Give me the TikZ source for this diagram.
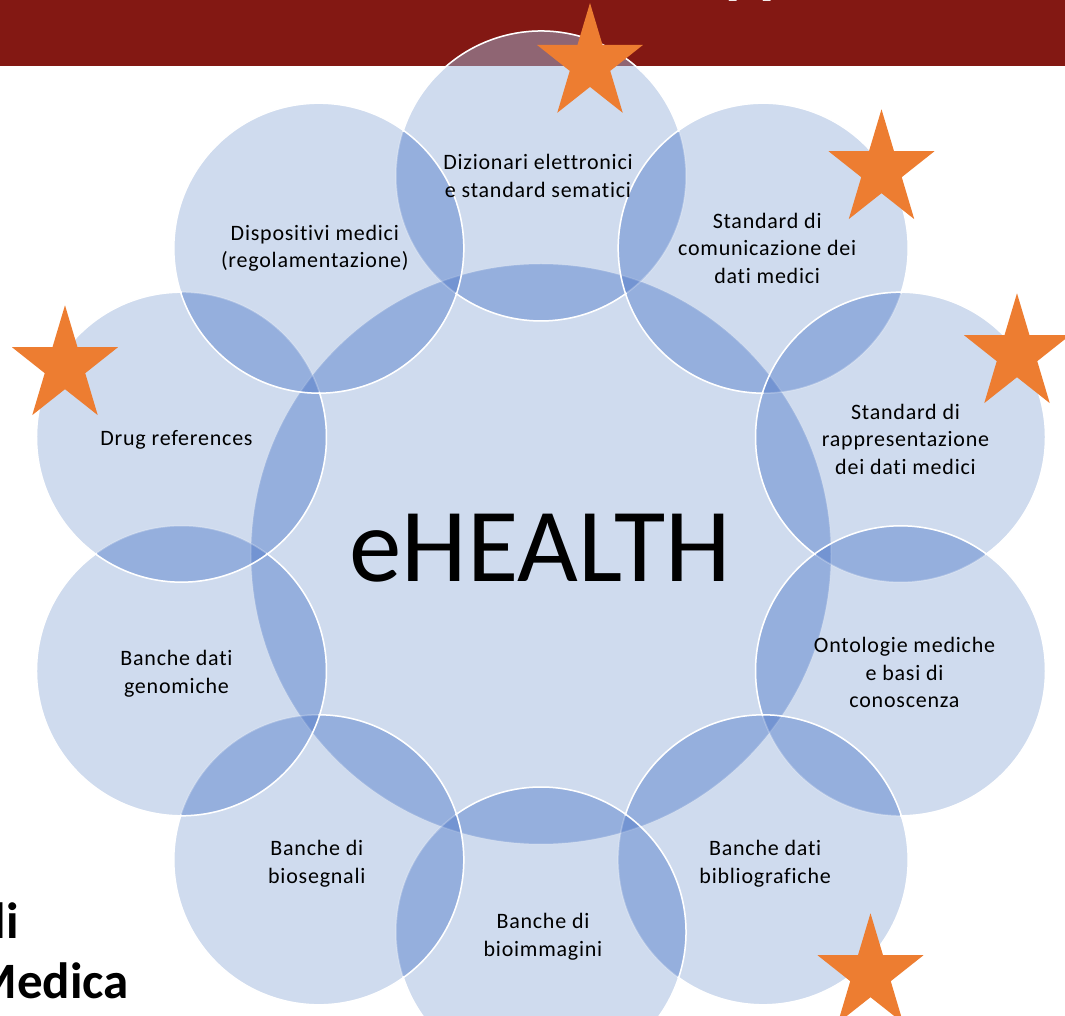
\documentclass[tikz,border=0pt]{standalone}
\usepackage{fontspec}
\setmainfont{Carlito}[Ligatures=NoCommon]
\usetikzlibrary{positioning,calc}

\definecolor{bannerred}{RGB}{131,24,19}
\definecolor{circlefill}{RGB}{207,219,238}
\definecolor{lensfill}{RGB}{149,175,221}
\definecolor{tripfill}{RGB}{115,148,210}
\definecolor{bannermauve}{RGB}{143,101,115}
\definecolor{starorange}{RGB}{237,125,49}

\tikzset{
  bubbletext/.style={align=center, inner sep=0pt, text=black,
    font=\fontsize{22}{27.5}\selectfont\addfontfeature{LetterSpace=3.5}},
  rim/.style={white, line width=1.5pt},
  fadedrim/.style={white, line width=1.5pt, opacity=.25}
}

\begin{document}
\begin{tikzpicture}[x=1pt,y=1pt]
    \useasboundingbox (-541,-462) rectangle (524,554);
    \fill[white] (-541,-462) rectangle (524,554);

    % Title bar
    \fill[bannerred] (-541,488) rectangle (524,554);
    \node[anchor=base west, inner sep=0pt, text=white, font=\bfseries\fontsize{63}{70}\selectfont] (titlebit) at (184.5,562) {pp};

    % Ring of circles
    \coordinate (O) at (0,0);
    \foreach \k in {1,...,10}
        \coordinate (c\k) at ({126-36*\k}:378);

    \fill[circlefill] (O) circle (290);
    \foreach \k in {1,...,10}
        \fill[circlefill] (c\k) circle (145);

    % Overlaps with the centre
    \foreach \k in {1,...,10} {
        \begin{scope}
            \clip (O) circle (290);
            \fill[lensfill] (c\k) circle (145);
        \end{scope}
    }

    % Overlaps between neighbours
    \foreach \k in {1,...,10} {
        \pgfmathtruncatemacro{\nxt}{mod(\k,10)+1}
        \begin{scope}
            \clip (c\k) circle (145);
            \fill[lensfill] (c\nxt) circle (145);
            \clip (O) circle (290);
            \fill[tripfill] (c\nxt) circle (145);
        \end{scope}
    }

    % Top circle over the title bar
    \begin{scope}
        \clip (-541,488) rectangle (524,554);
        \fill[bannermauve] (c1) circle (145);
    \end{scope}

    % Rims
    \draw[fadedrim, opacity=.12] (O) circle (290);
    \foreach \k in {1,...,10}
        \draw[fadedrim] (c\k) circle (145);
    \foreach \k in {2,...,9} {
        \pgfmathsetmacro{\t}{126-36*\k}
        \draw[rim] (c\k) ++({\t-72.2}:145) arc[start angle={\t-72.2}, end angle={\t+216.2}, radius=145];
    }
    \draw[rim] (c1) ++(17.8:145) arc[start angle=17.8, end angle=162.2, radius=145];
    \draw[rim] (c1) ++(233.8:145) arc[start angle=233.8, end angle=306.2, radius=145];
    \draw[rim] (c10) circle (145);

    % Labels
    \node[bubbletext] (dizionari) at ($(c1)+(-3,0)$) {Dizionari elettronici\\e standard sematici};
    \node[bubbletext] (comunicazione) at ($(c2)+(4,0)$) {Standard di\\comunicazione dei\\dati medici};
    \node[bubbletext] (rappresentazione) at ($(c3)+(5,-2)$) {Standard di\\rappresentazione\\dei dati medici};
    \node[bubbletext] (ontologie) at ($(c4)+(4,-2)$) {Ontologie mediche\\e basi di\\conoscenza};
    \node[bubbletext] (bibliografiche) at ($(c5)+(2,-4)$) {Banche dati\\bibliografiche};
    \node[bubbletext] (bioimmagini) at ($(c6)+(2,-5)$) {Banche di\\bioimmagini};
    \node[bubbletext] (biosegnali) at ($(c7)+(-2,-4)$) {Banche di\\biosegnali};
    \node[bubbletext] (genomiche) at ($(c8)+(-5,-3)$) {Banche dati\\genomiche};
    \node[bubbletext] (drugs) at ($(c9)+(-5,-3)$) {Drug references};
    \node[bubbletext] (dispositivi) at ($(c10)+(-4,0)$) {Dispositivi medici\\(regolamentazione)};

    \node[anchor=base, inner sep=0pt, font=\fontsize{105}{120}\selectfont] (ehealth) at (-0.5,-28) {eHEALTH};

    % Stars
    \foreach \sx/\sy [count=\s] in {49/490.3, 340.5/384, 476/200, -476/188, 329.5/-420}
        \fill[starorange, shift={(\sx,\sy)}, yscale=1.09] (90:55.7) -- (126:21.3) -- (162:55.7) -- (198:21.3) -- (234:55.7) -- (270:21.3) -- (306:55.7) -- (342:21.3) -- (18:55.7) -- (54:21.3) -- cycle;

    % Course title, cut by the frame
    \node[anchor=base east, inner sep=0pt, font=\bfseries\fontsize{51}{60}\selectfont] (coursedi) at (-522,-384) {li};
    \node[anchor=base east, inner sep=0pt, font=\bfseries\fontsize{51}{60}\selectfont] (coursemedica) at (-412,-444) {Medica};
\end{tikzpicture}
\end{document}
